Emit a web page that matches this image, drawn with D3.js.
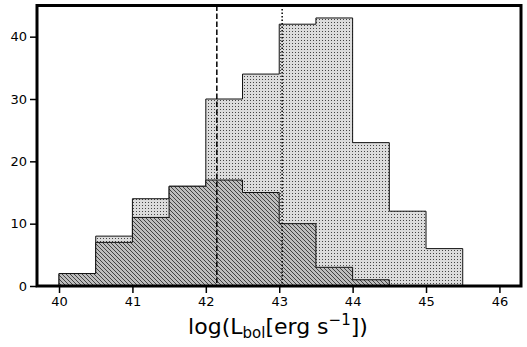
<!DOCTYPE html>
<html><head><meta charset="utf-8">
<script src="https://cdn.jsdelivr.net/npm/d3@7"></script>
<style>body{margin:0;background:#fff}svg{display:block}text{font-family:"DejaVu Sans",sans-serif}</style>
</head><body>
<svg id="c" width="527" height="347"></svg>
<script>
const binEdges = [40,40.5,41,41.5,42,42.5,43,43.5,44,44.5,45,45.5];
const allCounts = [2,8,14,16,30,34,42,43,23,12,6];
const subCounts = [2,7,11,16,17,15,10,3,1,0,0];
const xTicks = [40,41,42,43,44,45,46];
const yTicks = [0,10,20,30,40];
const dashedLineX = 42.15;
const dottedLineX = 43.04;

const svg = d3.select("#c");
const L=37, R=521, T=5.5, B=286;
const x = d3.scaleLinear().domain([39.7,46.294]).range([L,R]);
const y = d3.scaleLinear().domain([0,45]).range([B,T]);

const defs = svg.append("defs");
const pd = defs.append("pattern").attr("id","dots").attr("patternUnits","userSpaceOnUse").attr("width",3).attr("height",3);
pd.append("rect").attr("width",3).attr("height",3).attr("fill","#dcdcdc");
pd.append("rect").attr("x",1).attr("y",1).attr("width",1).attr("height",1).attr("fill","#444");
const ph = defs.append("pattern").attr("id","hatch").attr("patternUnits","userSpaceOnUse").attr("width",4).attr("height",4);
ph.append("rect").attr("width",4).attr("height",4).attr("fill","#bdbdbd");
ph.append("path").attr("d","M-1,-1L5,5M-1,3L1,5M3,-1L5,1").attr("stroke","#333").attr("stroke-width",0.9);

function stepPoints(counts){
  const pts=[[binEdges[0],0]];
  counts.forEach((c,i)=>{pts.push([binEdges[i],c]);pts.push([binEdges[i+1],c]);});
  pts.push([binEdges[counts.length],0]);
  return pts;
}
const line = d3.line().x(d=>x(d[0])).y(d=>y(d[1]));
function drawHist(counts, fill){
  const pts=stepPoints(counts);
  svg.append("path").attr("d",line(pts)+"Z").attr("fill",fill).attr("stroke","#111").attr("stroke-width",1);
}
drawHist(allCounts,"url(#dots)");
drawHist(subCounts,"url(#hatch)");

svg.append("line").attr("x1",x(dashedLineX)).attr("x2",x(dashedLineX)).attr("y1",T).attr("y2",B)
  .attr("stroke","#000").attr("stroke-width",1.5).attr("stroke-dasharray","5.5,2.5");
svg.append("line").attr("x1",x(dottedLineX)).attr("x2",x(dottedLineX)).attr("y1",T).attr("y2",B)
  .attr("stroke","#000").attr("stroke-width",1.5).attr("stroke-dasharray","1.5,2");

const xa = svg.append("g").attr("transform",`translate(0,${B})`)
  .call(d3.axisBottom(x).tickValues(xTicks).tickSize(7).tickPadding(4).tickFormat(d3.format("d")));
const ya = svg.append("g").attr("transform",`translate(${L},0)`)
  .call(d3.axisLeft(y).tickValues(yTicks).tickSize(7).tickPadding(3).tickFormat(d3.format("d")));
[xa,ya].forEach(a=>{a.select(".domain").remove();a.selectAll("line").attr("stroke","#000").attr("stroke-width",1.5);
  a.selectAll("text").attr("font-size",13).attr("fill","#000").attr("font-family","DejaVu Sans");});

svg.append("rect").attr("x",L).attr("y",T).attr("width",R-L).attr("height",B-T)
  .attr("fill","none").attr("stroke","#000").attr("stroke-width",3);

const lab = svg.append("text").attr("x",278).attr("y",334).attr("text-anchor","middle").attr("font-size",22).attr("fill","#000");
lab.append("tspan").text("log(L");
lab.append("tspan").attr("font-size",15).attr("dy",4).text("bol");
lab.append("tspan").attr("dy",-4).text("[erg s");
lab.append("tspan").attr("font-size",15).attr("dy",-9).text("\u22121");
lab.append("tspan").attr("dy",9).text("])");
</script>
</body></html>
